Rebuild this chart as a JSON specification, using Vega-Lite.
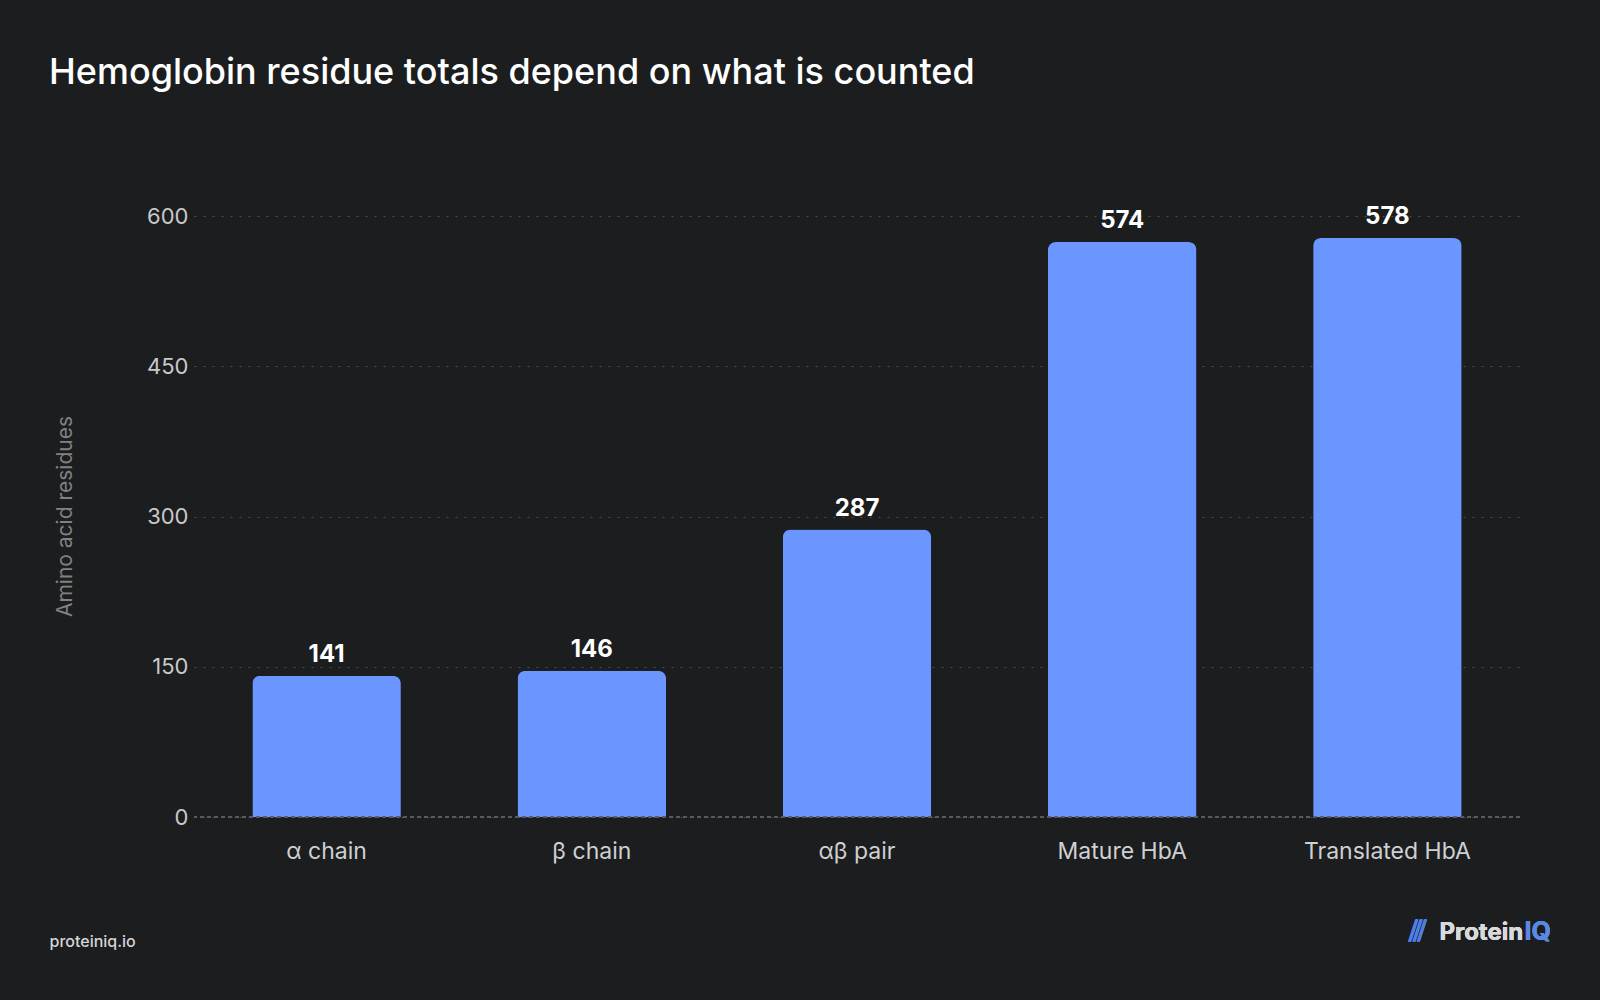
{
  "$schema": "https://vega.github.io/schema/vega-lite/v6.json",
  "width": 1326,
  "height": 601,
  "autosize": {"type": "none"},
  "padding": {"left": 194, "top": 216, "right": 80, "bottom": 183},
  "background": "#1c1d1f",
  "config": {
    "font": "Inter",
    "view": {"stroke": null}
  },
  "title": {
    "text": "Hemoglobin residue totals depend on what is counted",
    "anchor": "start",
    "frame": "group",
    "dx": -145,
    "offset": 113,
    "fontSize": 36,
    "fontWeight": 500,
    "color": "#ffffff",
    "font": "Inter"
  },
  "data": {
    "values": [
      {"category": "α chain", "residues": 141},
      {"category": "β chain", "residues": 146},
      {"category": "αβ pair", "residues": 287},
      {"category": "Mature HbA", "residues": 574},
      {"category": "Translated HbA", "residues": 578}
    ]
  },
  "layer": [
    {
      "mark": {"type": "bar", "color": "#6b95ff", "cornerRadiusTopLeft": 8, "cornerRadiusTopRight": 8},
      "encoding": {
        "x": {
          "field": "category",
          "type": "nominal",
          "sort": null,
          "scale": {"paddingInner": 0.44, "paddingOuter": 0.22},
          "axis": {
            "labelAngle": 0,
            "labelFontSize": 23,
            "labelColor": "#cfd0d2",
            "labelPadding": 23,
            "ticks": false,
            "domain": false,
            "title": "proteiniq.io",
            "titleFontSize": 16,
            "titleFontWeight": 500,
            "titleColor": "#d4d5d7",
            "titleAnchor": null,
            "titleAlign": "left",
            "titleBaseline": "alphabetic",
            "titleX": -145,
            "titleY": 129
          }
        },
        "y": {
          "field": "residues",
          "type": "quantitative",
          "scale": {"domain": [0, 600], "nice": false},
          "axis": {
            "values": [0, 150, 300, 450, 600],
            "labelFontSize": 22,
            "labelColor": "#c8c9cb",
            "labelPadding": 6,
            "ticks": false,
            "domain": false,
            "grid": true,
            "gridColor": "#4a4c50",
            "gridDash": [2, 7],
            "gridWidth": 1,
            "title": "Amino acid residues",
            "titleFontSize": 21,
            "titleFontWeight": 400,
            "titleColor": "#7f8184",
            "titleX": -129,
            "titleY": 300,
            "titleAngle": -90,
            "titleAlign": "center",
            "titleBaseline": "middle"
          }
        }
      }
    },
    {
      "mark": {"type": "rule", "color": "#5a5c60", "strokeDash": [4, 3], "strokeWidth": 1},
      "encoding": {"y": {"datum": 0}}
    },
    {
      "mark": {"type": "text", "fontSize": 24, "fontWeight": "bold", "color": "#ffffff", "baseline": "alphabetic", "dy": -14},
      "encoding": {
        "x": {"field": "category", "type": "nominal", "sort": null},
        "y": {"field": "residues", "type": "quantitative"},
        "text": {"field": "residues"}
      }
    },
    {
      "mark": {"type": "text", "fontSize": 29, "font": "DejaVu Sans", "fontWeight": "bold", "color": "#4f7fe0", "align": "center", "baseline": "alphabetic", "dx": 30, "dy": 124},
      "encoding": {
        "x": {"datum": "Translated HbA"},
        "y": {"datum": 0},
        "text": {"value": "⫻"}
      }
    },
    {
      "mark": {"type": "text", "fontSize": 24, "fontWeight": "bold", "color": "#d8d9db", "align": "left", "baseline": "alphabetic", "dx": 52, "dy": 123},
      "encoding": {
        "x": {"datum": "Translated HbA"},
        "y": {"datum": 0},
        "text": {"value": "Protein"}
      }
    },
    {
      "mark": {"type": "text", "fontSize": 25, "fontWeight": "bold", "color": "#5b88e0", "align": "left", "baseline": "alphabetic", "dx": 137, "dy": 123},
      "encoding": {
        "x": {"datum": "Translated HbA"},
        "y": {"datum": 0},
        "text": {"value": "IQ"}
      }
    }
  ]
}
